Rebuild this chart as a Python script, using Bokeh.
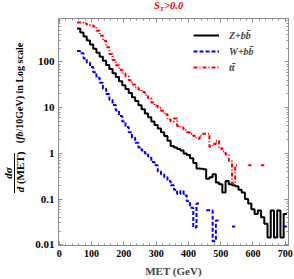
import math
from bokeh.plotting import figure
from bokeh.layouts import row, column
from bokeh.models import (Range1d, FixedTicker, LinearAxis, LogAxis, Div,
                          Legend, LegendItem, CustomJSTickFormatter)
from bokeh.embed import file_html
from bokeh.resources import INLINE

# ---------------- data (10 GeV bins) ----------------
bin_edges = [55, 65, 75, 85, 95, 105, 115, 125, 135, 145, 155, 165, 175, 185, 195,
             205, 215, 225, 235, 245, 255, 265, 275, 285, 295, 305, 315, 325, 335,
             345, 355, 365, 375, 385, 395, 405, 415, 425, 435, 445, 455, 465, 475,
             485, 495, 505, 515, 525, 535, 545, 555, 565, 575, 585, 595, 605, 615,
             625, 635, 645, 655, 665, 675, 685, 695, 705]

z_bb = [540, 440, 360, 295, 240, 195, 160, 130, 106, 86,
        70, 57, 47, 38, 31, 25.5, 21, 17, 14, 11.3,
        9.2, 7.5, 6.2, 5.0, 4.2, 3.5, 2.9, 2.4, 1.9, 1.45,
        1.35, 1.25, 1.15, 1.0, 0.92, 0.78, 0.62, 0.47, 0.46, 0.45,
        0.28, 0.3, 0.35, 0.23, 0.21, 0.14, 0.25, 0.21, 0.2, 0.19,
        0.16, 0.14, 0.1, 0.08, 0.06, 0.047, 0.056, 0.04, 0.029, 0.0145,
        0.056, 0.0145, 0.056, 0.0145, 0.047]

w_bb = [175, 155, 120, 98, 78, 60, 45, 35, 26, 20,
        15, 11.5, 8.7, 6.6, 5.0, 3.8, 2.9, 2.2, 1.7, 1.35,
        1.15, 1.0, 0.85, 0.65, 0.55, 0.4, 0.35, 0.3, 0.25, 0.2,
        0.16, 0.13, 0.15, 0.12, 0.09, 0.065, 0.024, 0.08, None, None,
        0.057, 0.057, 0.012, 0.034, None, None, None, None, 0.025, None,
        None, None, None, None, None, None, None, None, None, None,
        None, None, None, None, 0.025]

tt = [730, 730, 700, 650, 640, 600, 480, 380, 290, 210,
      150, 110, 85, 68, 57, 48, 40, 32, 28, 25,
      22, 19, 16, 13, 11, 10, 8.6, 7.2, 5.5, 5.0,
      5.8, 4.0, 3.7, 3.2, 2.9, 2.7, 2.4, 2.1, 2.5, 2.7,
      2.7, 1.4, 1.6, 1.9, 1.3, 1.1, 0.95, 0.68, 0.22, 0.55,
      None, None, None, 0.55, None, None, None, 0.55, None, None,
      None, None, None, None, None]

series_labels = ["Z+bb\u0304", "W+bb\u0304", "tt\u0304"]
x_ticks = [0, 100, 200, 300, 400, 500, 600, 700]
y_ticks = [0.01, 0.1, 1, 10, 100]
y_tick_labels = ["0.01", "0.1", "1", "10", "100"]


def steps(edges, vals):
    xs, ys = [], []
    for i, v in enumerate(vals):
        if v is None:
            xs.append(float("nan"))
            ys.append(float("nan"))
        else:
            xs += [edges[i], edges[i + 1]]
            ys += [v, v]
    return xs, ys


SERIF = "Liberation Serif"
FRAME = "#8c8c8c"
TOTAL_W, TOTAL_H = 294, 279
LEFT_W = 30
TOP_H = 14

p = figure(width=TOTAL_W - LEFT_W, height=TOTAL_H - TOP_H, output_backend="svg",
           toolbar_location=None,
           x_range=Range1d(-2.5, 710), y_range=Range1d(0.00965, 895),
           y_axis_type="log", min_border_left=28, min_border_right=6,
           min_border_top=4, min_border_bottom=34)
p.grid.visible = False
p.outline_line_color = FRAME
p.background_fill_color = "white"
p.border_fill_color = "white"

x_minor = [v for v in range(0, 711, 20) if v % 100 != 0]
y_minor = [m * 10.0 ** e for e in range(-2, 3) for m in range(2, 10) if m * 10.0 ** e < 895]
xt = FixedTicker(ticks=x_ticks, minor_ticks=x_minor)
yt = FixedTicker(ticks=y_ticks, minor_ticks=y_minor)


def style(ax, show):
    ax.major_tick_in = 4
    ax.major_tick_out = 0
    ax.minor_tick_in = 2
    ax.minor_tick_out = 0
    ax.axis_line_color = FRAME
    ax.major_tick_line_color = FRAME
    ax.minor_tick_line_color = FRAME
    if not show:
        ax.formatter = CustomJSTickFormatter(code="return ''")
        ax.major_label_text_font_size = "1px"
        ax.major_label_standoff = 0


bx = p.xaxis[0]
bx.ticker = xt
style(bx, True)
bx.major_label_text_font = SERIF
bx.major_label_text_font_style = "bold"
bx.major_label_text_font_size = "10px"
bx.major_label_text_color = "black"
bx.major_label_standoff = 4
bx.axis_label = "MET (GeV)"
bx.axis_label_text_font = SERIF
bx.axis_label_text_font_style = "bold"
bx.axis_label_text_font_size = "11px"
bx.axis_label_standoff = 5

ly = p.yaxis[0]
ly.ticker = yt
style(ly, True)
ly.major_label_overrides = dict(zip(y_ticks, y_tick_labels))
ly.major_label_text_font = SERIF
ly.major_label_text_font_style = "bold"
ly.major_label_text_font_size = "11px"
ly.major_label_text_color = "black"
ly.major_label_standoff = 4

top = LinearAxis(ticker=xt)
style(top, False)
p.add_layout(top, "above")
right = LogAxis(ticker=yt)
style(right, False)
p.add_layout(right, "right")

# ---------------- histograms ----------------
xs, ys = steps(bin_edges, z_bb)
r_z = p.line(xs, ys, line_color="black", line_width=2)
xs, ys = steps(bin_edges, w_bb)
r_w = p.line(xs, ys, line_color="#0000ff", line_width=2, line_dash="4 2")
xs, ys = steps(bin_edges, tt)
r_t = p.line(xs, ys, line_color="#ff0000", line_width=2, line_dash="4 2 1 2")

legend = Legend(items=[LegendItem(label=series_labels[0], renderers=[r_z]),
                       LegendItem(label=series_labels[1], renderers=[r_w]),
                       LegendItem(label=series_labels[2], renderers=[r_t])],
                location=(135, 170), padding=0, margin=0, spacing=0,
                glyph_width=26, glyph_height=16, label_height=16, label_standoff=10,
                background_fill_alpha=0, border_line_alpha=0,
                label_text_font=SERIF, label_text_font_style="bold italic",
                label_text_font_size="10px")
p.add_layout(legend)

# ---------------- title and y-axis title (HTML text) ----------------
FONT = "font-family:'Liberation Serif';font-weight:bold;white-space:nowrap;line-height:1;"
ROT = "position:absolute;transform:translate(-50%,-50%) rotate(-90deg);"

title_html = (
    f"<span style=\"position:absolute;left:124px;top:1px;{FONT}"
    "font-size:10.5px;color:#ff0000;font-style:italic;\">"
    "S<sub style=\"font-size:7px;vertical-align:-2px;\">T</sub>&gt;0.0</span>"
)
top_div = Div(text=title_html, width=TOTAL_W - LEFT_W, height=TOP_H, margin=0,
              styles={"overflow": "visible"})

ylab_html = (
    f"<span style=\"{ROT}left:8px;top:173px;{FONT}font-size:11px;font-style:italic;\">d\u03c3</span>"
    f"<span style=\"position:absolute;left:14px;top:153px;width:1px;height:40px;background:#000;\"></span>"
    f"<span style=\"{ROT}left:19.5px;top:172px;{FONT}font-size:11px;\"><i>d</i> (MET)</span>"
    f"<span style=\"{ROT}left:19.5px;top:93px;{FONT}font-size:10px;\">(<i>fb</i>/10GeV) in Log scale</span>"
)
left_div = Div(text=ylab_html, width=LEFT_W, height=TOTAL_H, margin=0,
               styles={"overflow": "visible"})

layout = row(left_div, column(top_div, p, spacing=0), spacing=0)

open("out.html", "w").write(file_html(layout, INLINE))
